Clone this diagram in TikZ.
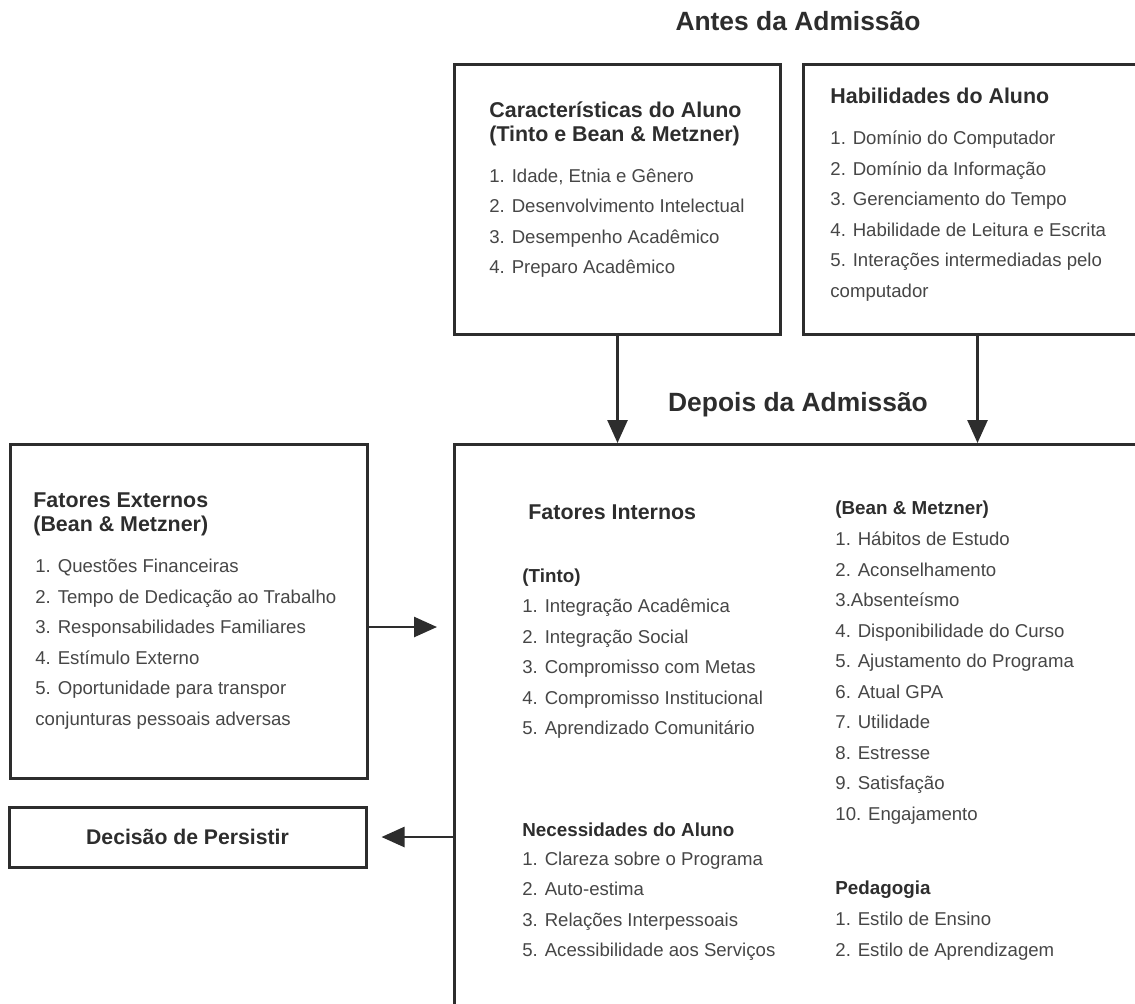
\documentclass[tikz,border=0pt]{standalone}
\usepackage{fontspec}
\setmainfont{Liberation Sans}
\usetikzlibrary{arrows.meta}
\definecolor{ink}{RGB}{45,45,45}
\definecolor{txt}{RGB}{70,70,70}

\begin{document}
\begin{tikzpicture}[
  x=0.5pt, y=-0.5pt,
  box/.style={draw=ink, line width=1.5pt, anchor=north west, inner sep=0pt},
  arr/.style={-{Triangle[length=11.5pt, width=10pt]}, draw=ink, line width=1.3pt},
  title/.style={anchor=base, inner sep=0pt, text=ink, font={\bfseries\fontsize{13.2}{15}\selectfont}},
  head/.style={anchor=west, align=left, inner sep=0pt, text=ink, font={\bfseries\fontsize{10.7}{12}\selectfont}},
  subhead/.style={anchor=west, inner sep=0pt, text=ink, font={\bfseries\fontsize{9.4}{11}\selectfont}},
  items/.style={anchor=west, align=left, inner sep=0pt, text=txt, font={\fontsize{9.3}{15.25}\selectfont}}
]
\useasboundingbox (0,0) rectangle (1135,1003);
\clip (0,0) rectangle (1135,1003);

% titles
\node[title] (antes) at (798,30) {Antes da Admissão};
\node[title] (depoistit) at (798,411) {Depois da Admissão};

% boxes
\node[box, minimum width=163pt, minimum height=135pt] (char) at (453,63) {};
\node[box, minimum width=174pt, minimum height=135pt] (hab) at (802,63) {};
\node[box, minimum width=178.5pt, minimum height=167pt] (ext) at (9,443) {};
\node[box, minimum width=353.5pt, minimum height=300pt] (depois) at (453,443) {};
\node[box, anchor=center, minimum width=178.5pt, minimum height=30pt, text=ink,
  font={\bfseries\fontsize{10.6}{12}\selectfont}] (dec) at (187.5,837) {Decisão de Persistir};

% before admission
\node[head] (charhead) at (489,124) {Características do Aluno\\(Tinto e Bean \& Metzner)};
\node[items] (charlist) at (489,223) {1. Idade, Etnia e Gênero\\2. Desenvolvimento Intelectual\\3. Desempenho Acadêmico\\4. Preparo Acadêmico};
\node[head] (habhead) at (830,96) {Habilidades do Aluno};
\node[items] (hablist) at (830,216) {1. Domínio do Computador\\2. Domínio da Informação\\3. Gerenciamento do Tempo\\4. Habilidade de Leitura e Escrita\\5. Interações intermediadas pelo\\computador};

% external factors
\node[head] (exthead) at (33,514) {Fatores Externos\\(Bean \& Metzner)};
\node[items] (extlist) at (35,644) {1. Questões Financeiras\\2. Tempo de Dedicação ao Trabalho\\3. Responsabilidades Familiares\\4. Estímulo Externo\\5. Oportunidade para transpor\\conjunturas pessoais adversas};

% after admission
\node[head] (inthead) at (528,512) {Fatores Internos};
\node[subhead] (tinto) at (522,578) {(Tinto)};
\node[items] (tintolist) at (522,669) {1. Integração Acadêmica\\2. Integração Social\\3. Compromisso com Metas\\4. Compromisso Institucional\\5. Aprendizado Comunitário};
\node[subhead] (necess) at (522,830) {Necessidades do Aluno};
\node[items] (necesslist) at (522,906) {1. Clareza sobre o Programa\\2. Auto-estima\\3. Relações Interpessoais\\5. Acessibilidade aos Serviços};
\node[subhead] (bean) at (835,510) {(Bean \& Metzner)};
\node[items] (beanlist) at (835,678) {1. Hábitos de Estudo\\2. Aconselhamento\\3.Absenteísmo\\4. Disponibilidade do Curso\\5. Ajustamento do Programa\\6. Atual GPA\\7. Utilidade\\8. Estresse\\9. Satisfação\\10. Engajamento};
\node[subhead] (pedag) at (835,890) {Pedagogia};
\node[items] (pedaglist) at (835,936) {1. Estilo de Ensino\\2. Estilo de Aprendizagem};

% connectors
\draw[arr] (char.south) -- (char.south |- depois.north);
\draw[arr] (hab.south) -- (hab.south |- depois.north);
\draw[arr, shorten >=8pt] (ext.east |- 0,627) -- (depois.west |- 0,627);
\draw[arr, shorten >=7pt] (depois.west |- dec.east) -- (dec.east);
\end{tikzpicture}
\end{document}
